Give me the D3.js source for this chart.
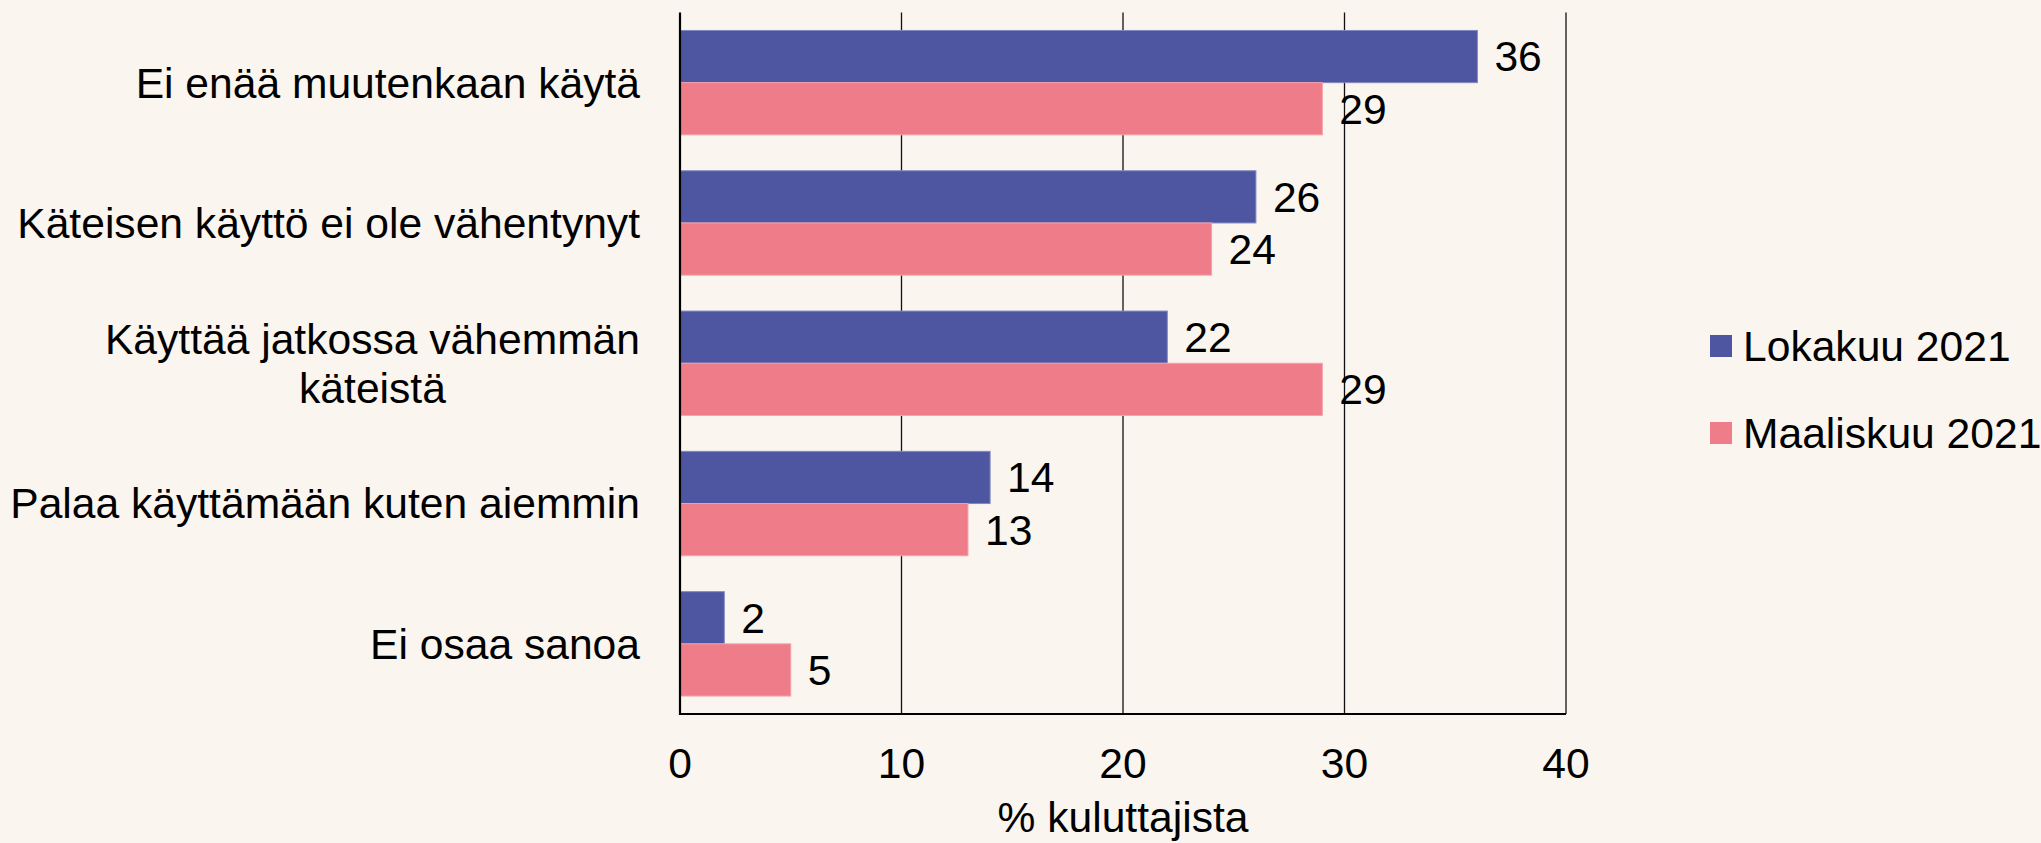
<!DOCTYPE html>
<html>
<head>
<meta charset="utf-8">
<script src="https://cdn.jsdelivr.net/npm/d3@7"></script>
<style>
    html, body { margin: 0; padding: 0; background: #faf5ef; }
    svg { display: block; font-family: "Liberation Sans", Arial, sans-serif; }
</style>
</head>
<body>
<svg id="chart" width="2041" height="843"></svg>
<script>
// Data
const categories = [
    ['Ei enää muutenkaan käytä'],
    ['Käteisen käyttö ei ole vähentynyt'],
    ['Käyttää jatkossa vähemmän', 'käteistä'],
    ['Palaa käyttämään kuten aiemmin'],
    ['Ei osaa sanoa']
];
const seriesNames = ['Lokakuu 2021', 'Maaliskuu 2021'];
const lokakuu = [36, 26, 22, 14, 2];
const maaliskuu = [29, 24, 29, 13, 5];
const xTicks = [0, 10, 20, 30, 40];
const xTitle = '% kuluttajista';

const colors = ['#4f56a1', '#ee7c89'];
const edgeColors = ['#8388c0', '#f3a3ab'];

const svg = d3.select('#chart');
const fontSize = 42.6;

const margin = { top: 12.5, left: 680 };
const plotRight = 1566;
const plotBottom = 714;

const xScale = d3.scaleLinear()
    .domain([0, 40])
    .range([margin.left, plotRight]);

const keys = categories.map((c, i) => i);
const yScale = d3.scaleBand()
    .domain(keys)
    .range([margin.top, plotBottom])
    .padding(0);

const bw = yScale.bandwidth();
const inner = d3.scaleBand()
    .domain([0, 1])
    .range([bw * 0.128, bw * 0.872])
    .padding(0);

// Gridlines (behind bars)
svg.append('g')
    .selectAll('line')
    .data(xTicks.filter(d => d > 0))
    .enter()
    .append('line')
    .attr('x1', d => xScale(d))
    .attr('x2', d => xScale(d))
    .attr('y1', margin.top)
    .attr('y2', plotBottom)
    .attr('stroke', '#111')
    .attr('stroke-width', 1.3);

// Bars
const rows = keys.map(i => ({ i, values: [lokakuu[i], maaliskuu[i]] }));

const groups = svg.append('g')
    .selectAll('g')
    .data(rows)
    .enter()
    .append('g')
    .attr('transform', d => `translate(0,${yScale(d.i)})`);

groups.selectAll('rect')
    .data(d => d.values.map((v, s) => ({ v, s })))
    .enter()
    .append('rect')
    .attr('x', xScale(0))
    .attr('y', d => inner(d.s))
    .attr('width', d => xScale(d.v) - xScale(0))
    .attr('height', inner.bandwidth())
    .attr('fill', d => colors[d.s])
    .attr('stroke', d => edgeColors[d.s])
    .attr('stroke-width', 1);

// Value labels
groups.selectAll('text')
    .data(d => d.values.map((v, s) => ({ v, s })))
    .enter()
    .append('text')
    .attr('x', d => xScale(d.v) + 17)
    .attr('y', d => inner(d.s) + inner.bandwidth() / 2)
    .attr('dy', '0.35em')
    .style('font-size', fontSize + 'px')
    .style('fill', '#000')
    .text(d => d.v);

// Axes lines
svg.append('line')
    .attr('x1', xScale(0)).attr('x2', xScale(0))
    .attr('y1', margin.top).attr('y2', plotBottom + 1)
    .attr('stroke', '#000').attr('stroke-width', 2.2);

svg.append('line')
    .attr('x1', xScale(0) - 1).attr('x2', plotRight)
    .attr('y1', plotBottom).attr('y2', plotBottom)
    .attr('stroke', '#000').attr('stroke-width', 2.2);

// X tick labels
svg.append('g')
    .selectAll('text')
    .data(xTicks)
    .enter()
    .append('text')
    .attr('x', d => xScale(d))
    .attr('y', 778)
    .attr('text-anchor', 'middle')
    .style('font-size', fontSize + 'px')
    .text(d => d);

// X axis title
svg.append('text')
    .attr('x', (xScale(0) + plotRight) / 2)
    .attr('y', 832)
    .attr('text-anchor', 'middle')
    .style('font-size', fontSize + 'px')
    .text(xTitle);

// Category labels - lines centred to each other, block right-aligned at x=640
const labelRight = 640;
const lineHeight = 49;
const catLabels = svg.append('g');

categories.forEach((lines, i) => {
    const t = catLabels.append('text')
        .attr('text-anchor', 'middle')
        .style('font-size', fontSize + 'px');
    const spans = lines.map(line => t.append('tspan').text(line));
    const maxW = d3.max(spans, s => s.node().getComputedTextLength());
    const cx = labelRight - maxW / 2;
    const cy = yScale(i) + bw / 2;
    const firstY = cy - (lines.length - 1) * lineHeight / 2;
    spans.forEach((s, j) => {
        s.attr('x', cx)
            .attr('y', firstY + j * lineHeight)
            .attr('dy', '0.35em');
    });
});

// Legend
const legend = svg.append('g');
const legendY = [346, 433];
seriesNames.forEach((name, s) => {
    legend.append('rect')
        .attr('x', 1710)
        .attr('y', legendY[s] - 11)
        .attr('width', 22)
        .attr('height', 22)
        .attr('fill', colors[s]);
    legend.append('text')
        .attr('x', 1743)
        .attr('y', legendY[s])
        .attr('dy', '0.35em')
        .style('font-size', fontSize + 'px')
        .text(name);
});
</script>
</body>
</html>
